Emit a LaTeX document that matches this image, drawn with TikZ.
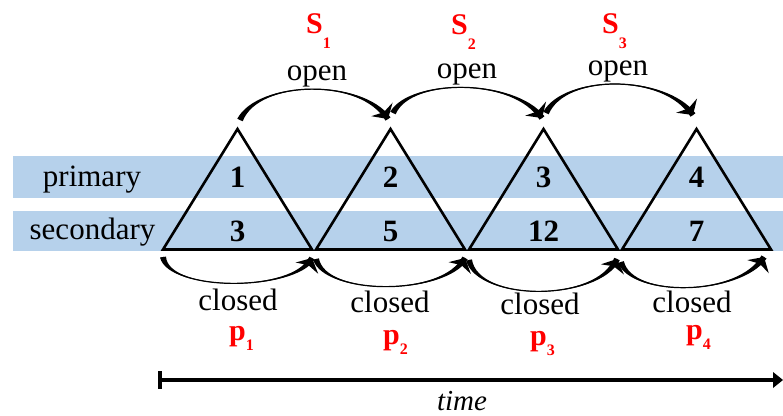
\documentclass[tikz,border=0pt]{standalone}
\usepackage{fontspec}
\setmainfont{Liberation Serif}
\usetikzlibrary{calc}
\definecolor{bandblue}{RGB}{182,209,235}
\definecolor{labelred}{RGB}{255,0,0}
% letter with a lowered small index
\newcommand\symsub[3]{#1\raisebox{-#3pt}{\fontsize{16}{16}\selectfont #2}}
% curved arrow that is thick at both ends and thin in the middle:
% #1 start, #2 first control, #3 second control, #4 end (tip), #5 half width at the ends
\newcommand\taperarc[5]{%
  \fill ($(#1)!#5!90:(#2)$) .. controls (#2) and (#3) .. ($(#4)!#5!-90:(#3)$)
     -- ($(#4)!#5!90:(#3)$) .. controls (#3) and (#2) .. ($(#1)!#5!-90:(#2)$) -- cycle;
  \draw[hop] (#1) .. controls (#2) and (#3) .. (#4);
  % swept arrow head along the end tangent
  \fill (#4) -- ($(#4)!17pt!48:(#3)$) -- ($(#4)!8pt!(#3)$) -- ($(#4)!17pt!-48:(#3)$) -- cycle;}

\begin{document}
\begin{tikzpicture}[x=1pt,y=-1pt,
  band/.style={fill=bandblue,draw=none},
  tri/.style={draw=black,line width=2.6pt,line join=miter},
  rowlabel/.style={font=\fontsize{31}{31}\selectfont,anchor=base,inner sep=0pt},
  count/.style={font=\fontsize{31}{31}\selectfont\bfseries,anchor=base,inner sep=0pt},
  state/.style={font=\fontsize{31}{31}\selectfont,anchor=base,inner sep=0pt},
  sym/.style={font=\fontsize{30}{30}\selectfont\bfseries,text=labelred,anchor=base west,inner sep=0pt},
  hop/.style={line width=1.2pt},
  timeline/.style={line width=4pt}
]
\useasboundingbox (0,0) rectangle (783,415);

% rows
\fill[band] (13,156) rectangle (783,198);
\fill[band] (13,211) rectangle (783,251);
\node[rowlabel] (lprim) at (92,186) {primary};
\node[rowlabel] (lsec)  at (92.5,239) {secondary};

% triangles
\foreach \i/\cx in {1/237.5,2/390.5,3/543.5,4/696.5}{
  \coordinate (a\i) at (\cx,129);
  \coordinate (l\i) at (\cx-74.5,249.5);
  \coordinate (r\i) at (\cx+74.5,249.5);
  \draw[tri] (a\i) -- (r\i) -- (l\i) -- cycle;
}

% counts
\node[count] (p1n) at (237.5,187) {1};
\node[count] (p2n) at (390.5,187) {2};
\node[count] (p3n) at (543.5,187) {3};
\node[count] (p4n) at (696.5,187) {4};
\node[count] (s1n) at (237.5,241) {3};
\node[count] (s2n) at (390.5,241) {5};
\node[count] (s3n) at (543.5,241) {12};
\node[count] (s4n) at (696.5,241) {7};

% open transitions
\coordinate (o1s) at (240,120);  \coordinate (o1e) at (388,119);
\coordinate (o2s) at (393,113);  \coordinate (o2e) at (542,118);
\coordinate (o3s) at (546,113);  \coordinate (o3e) at (693,115);
\taperarc{o1s}{258,80}{362,78}{o1e}{3pt}
\taperarc{o2s}{410,78}{515,78}{o2e}{3pt}
\taperarc{o3s}{565,74}{665,74}{o3e}{3pt}

\node[state] (op1) at (317,80) {open};
\node[state] (op2) at (467,78) {open};
\node[state] (op3) at (618,75) {open};
\node[sym] (S1) at (306,33) {\symsub{S}{1}{15}};
\node[sym] (S2) at (451,34) {\symsub{S}{2}{15}};
\node[sym] (S3) at (602,33) {\symsub{S}{3}{15}};

% closed transitions
\coordinate (c1s) at (163,257);  \coordinate (c1e) at (312,258);
\coordinate (c2s) at (316,259);  \coordinate (c2e) at (465,258);
\coordinate (c3s) at (469,260);  \coordinate (c3e) at (617,259);
\coordinate (c4s) at (621,262);  \coordinate (c4e) at (764,257);
\taperarc{c1s}{168,292}{295,292}{c1e}{3pt}
\taperarc{c2s}{325,296}{445,296}{c2e}{3pt}
\taperarc{c3s}{478,302}{598,302}{c3e}{3pt}
\taperarc{c4s}{632,298}{740,296}{c4e}{3pt}

\node[state] (cl1) at (238,310) {closed};
\node[state] (cl2) at (390,312) {closed};
\node[state] (cl3) at (540,314) {closed};
\node[state] (cl4) at (692,312) {closed};
\node[sym] (P1) at (229,340) {\symsub{p}{1}{10}};
\node[sym] (P2) at (383,344) {\symsub{p}{2}{10}};
\node[sym] (P3) at (530,345) {\symsub{p}{3}{10}};
\node[sym] (P4) at (686,339) {\symsub{p}{4}{10}};

% time axis with end bar and arrow head
\coordinate (t0) at (160,380);
\coordinate (t1) at (783,380);
\coordinate (t2) at (773,380);
\draw[timeline] (t0) -- (t2);
\fill (t0) ++(-2,-9) rectangle ++(4,18);
\fill (t1) -- (773,372) -- (773,388) -- cycle;
\node[font=\fontsize{29}{29}\selectfont\itshape,anchor=base,inner sep=0pt] (tlab) at (462,410) {time};
\end{tikzpicture}
\end{document}
